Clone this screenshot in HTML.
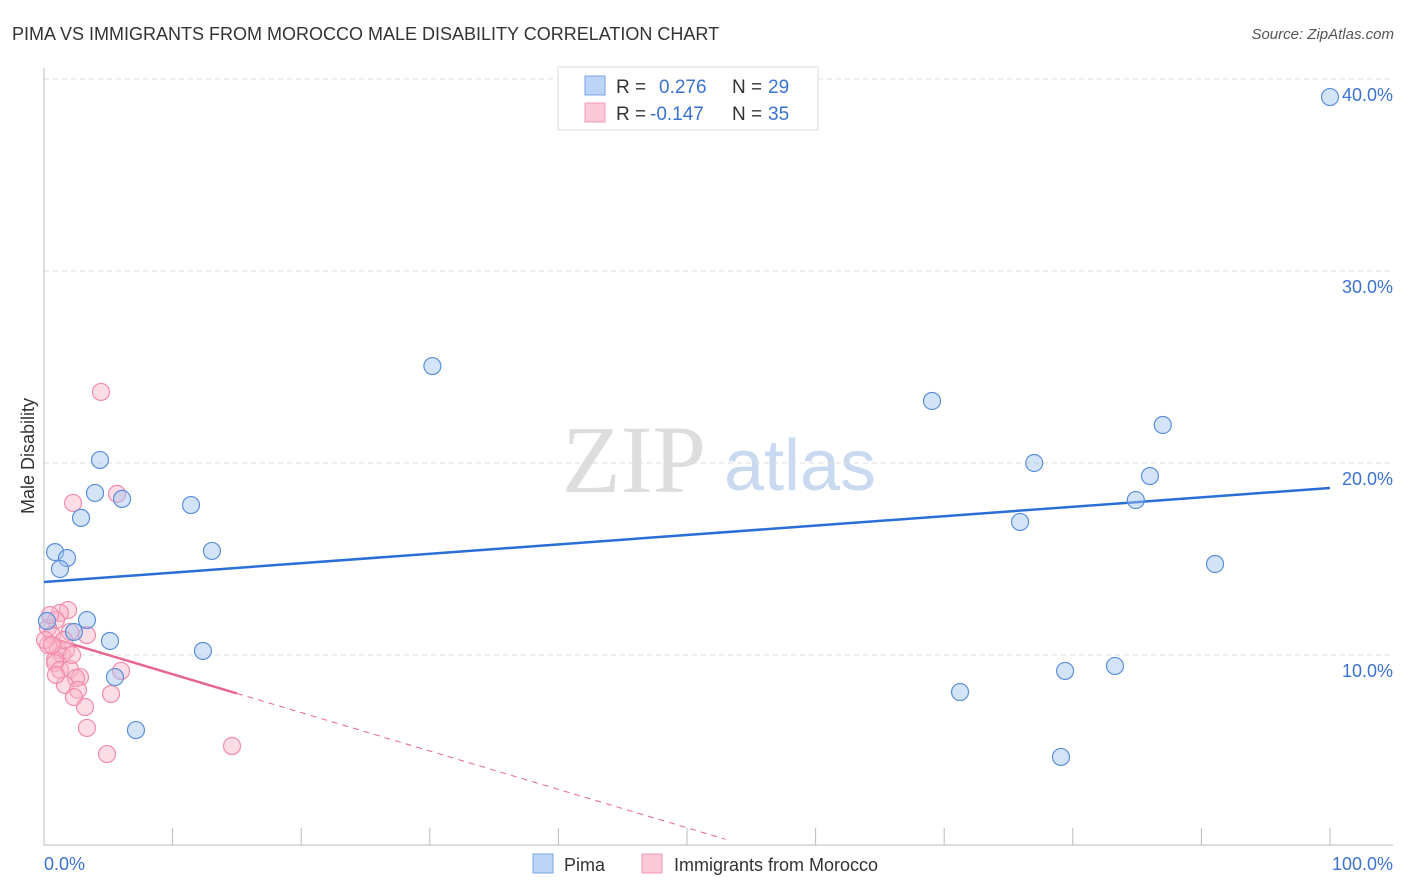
<!DOCTYPE html>
<html><head><meta charset="utf-8"><style>
body{margin:0;background:#fff;font-family:"Liberation Sans",sans-serif;}
svg{display:block}
</style></head><body>
<svg id="chart" width="1406" height="892" xmlns="http://www.w3.org/2000/svg">
<text x="12" y="40" font-size="18" fill="#333">PIMA VS IMMIGRANTS FROM MOROCCO MALE DISABILITY CORRELATION CHART</text>
<text x="1394" y="39" font-size="15" fill="#555" font-style="italic" text-anchor="end">Source: ZipAtlas.com</text>
<text x="634" y="492" font-size="96" fill="#ddd" font-family="Liberation Serif,serif" text-anchor="middle">ZIP</text>
<text x="800" y="490" font-size="72" fill="#c9d9f0" text-anchor="middle">atlas</text>
<g id="grid"></g><g id="axes"></g><g id="trends"></g><g id="points"></g>
<text transform="translate(34,456) rotate(-90)" font-size="18" fill="#333" text-anchor="middle">Male Disability</text>
<text x="44" y="870" font-size="18" fill="#3a72d0">0.0%</text>
<text x="1393" y="870" font-size="18" fill="#3a72d0" text-anchor="end">100.0%</text>
<g>
<rect x="558" y="67" width="260" height="63" fill="#fff" stroke="#ddd"/>
<rect x="585" y="76" width="20" height="19" fill="#bcd4f6" stroke="#7aa6e6"/>
<rect x="585" y="103" width="20" height="19" fill="#fac8d6" stroke="#f09ab4"/>
<text x="616" y="93" font-size="19" fill="#333">R =</text><text x="659" y="93" font-size="19" fill="#3a72d0">0.276</text>
<text x="732" y="93" font-size="19" fill="#333">N =</text><text x="768" y="93" font-size="19" fill="#3a72d0">29</text>
<text x="616" y="120" font-size="19" fill="#333">R =</text><text x="650" y="120" font-size="19" fill="#3a72d0">-0.147</text>
<text x="732" y="120" font-size="19" fill="#333">N =</text><text x="768" y="120" font-size="19" fill="#3a72d0">35</text>
</g>
<g>
<rect x="533" y="854" width="20" height="19" fill="#bcd4f6" stroke="#7aa6e6"/>
<text x="564" y="871" font-size="18" fill="#333">Pima</text>
<rect x="642" y="854" width="20" height="19" fill="#fac8d6" stroke="#f09ab4"/>
<text x="674" y="871" font-size="18" fill="#333">Immigrants from Morocco</text>
</g>
</svg>
<script>
const yTicks=[10,20,30,40];
const yTickLabels=["10.0%","20.0%","30.0%","40.0%"];
const xTicks=[0,10,20,30,40,50,60,70,80,90,100];
const pimaX=[100,30.2,69.05,87.0,4.35,77.0,86.0,3.97,6.07,84.9,11.43,2.88,75.9,0.86,13.06,1.79,1.24,91.06,0.23,3.34,2.33,5.13,12.36,79.4,83.28,5.52,71.23,7.15,79.08];
const pimaY=[39.06,25.05,23.23,21.98,20.16,20.0,19.32,18.44,18.13,18.07,17.81,17.14,16.93,15.36,15.42,15.05,14.48,14.74,11.77,11.82,11.2,10.73,10.21,9.17,9.43,8.85,8.07,6.09,4.69];
const morX=[4.43,2.26,5.68,1.87,1.24,0.93,0.31,0.62,3.34,2.02,0.31,1.09,1.71,1.4,0.86,0.86,1.24,2.02,2.8,2.49,1.63,2.64,2.33,5.21,3.19,5.99,3.34,4.9,14.62,0.08,0.47,1.56,2.18,0.62,0.93];
const morY=[23.7,17.92,18.39,12.34,12.19,11.82,11.41,11.04,11.04,11.2,10.52,10.26,10.26,10.0,9.74,9.58,9.22,9.27,8.85,8.8,8.44,8.18,7.81,7.97,7.29,9.17,6.2,4.84,5.26,10.78,12.08,10.78,10.0,10.52,8.96];
const pimaTrend=[13.8,18.7];
const morTrend=[11.0,-0.2];
const morSolidEnd=15, morDashEnd=53;
const NS="http://www.w3.org/2000/svg";
const sx=v=>44+v*12.86, sy=v=>847-v*19.2;
function mk(tag,attrs,parent){const e=document.createElementNS(NS,tag);for(const k in attrs)e.setAttribute(k,attrs[k]);document.getElementById(parent).appendChild(e);return e;}
yTicks.forEach((t,i)=>{
 const l=mk('line',{x1:44,x2:1393,y1:sy(t),y2:sy(t),stroke:'#ddd','stroke-dasharray':'5,4'},'grid');
 
 
 const tx=mk('text',{x:1393,y:sy(t)+22,'font-size':18,fill:'#3a72d0','text-anchor':'end'},'grid');
 tx.textContent=yTickLabels[i];
 
 
});
const ax=mk('line',{x1:44,x2:1393,y1:845,y2:845,stroke:'#bbb'},'axes');


const ay=mk('line',{x1:44,x2:44,y1:68,y2:845,stroke:'#bbb'},'axes');


xTicks.forEach(t=>{
 const l=mk('line',{x1:sx(t),x2:sx(t),y1:828,y2:845,stroke:'#bbb'},'axes');
 
 
});
const pl=mk('line',{x1:sx(0),y1:sy(pimaTrend[0]),x2:sx(100),y2:sy(pimaTrend[1]),stroke:'#2a6fd6','stroke-width':2.5},'trends');


const mf=x=>morTrend[0]+morTrend[1]*x;
const ml=mk('line',{x1:sx(0),y1:sy(mf(0)),x2:sx(morSolidEnd),y2:sy(mf(morSolidEnd)),stroke:'#e8668e','stroke-width':2.5},'trends');


const md=mk('line',{x1:sx(morSolidEnd),y1:sy(mf(morSolidEnd)),x2:sx(morDashEnd),y2:sy(mf(morDashEnd)),stroke:'#e8668e','stroke-width':1,'stroke-dasharray':'6,5'},'trends');


morX.forEach((x,i)=>{
 const c=mk('circle',{cx:sx(x),cy:sy(morY[i]),r:8.5,fill:'rgba(248,180,200,0.45)',stroke:'#f08cab','stroke-width':1.2},'points');
 
 
});
pimaX.forEach((x,i)=>{
 const c=mk('circle',{cx:sx(x),cy:sy(pimaY[i]),r:8.5,fill:'rgba(160,196,240,0.45)',stroke:'#5b8fd9','stroke-width':1.2},'points');
 
 
});
</script>
</body></html>
